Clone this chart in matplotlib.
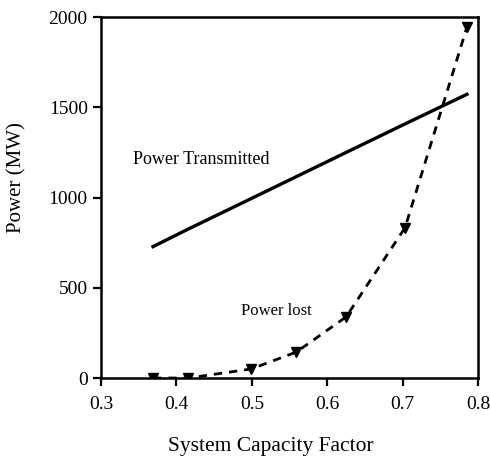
import matplotlib
matplotlib.use("Agg")
import matplotlib.pyplot as plt

# datos
capacidad = [0.369, 0.416, 0.499, 0.559, 0.625, 0.703, 0.785]
potencia_perdida = [0, 0, 50, 144, 339, 833, 1944]
potencia_transmitida = [728, 826, 994, 1116, 1250, 1408, 1572]

x_ticks = [0.3, 0.4, 0.5, 0.6, 0.7, 0.8]
y_ticks = [0, 500, 1000, 1500, 2000]

plt.rcParams['font.family'] = ['Liberation Serif', 'DejaVu Serif']

fig = plt.figure(figsize=(4.9, 4.61), dpi=100)
ax = fig.add_axes([0.206, 0.18, 0.77, 0.783])

ax.plot(capacidad, potencia_transmitida, color="black", linewidth=2.4)
ax.plot(capacidad, potencia_perdida, color="black", linewidth=2, linestyle=(0, (3, 2.5)),
        marker="v", markersize=7)

ax.text(0.343, 1211, "Power Transmitted", fontsize=13, va="center")
ax.text(0.485, 372, "Power lost", fontsize=12, va="center")

ax.set_xlim(0.3, 0.8)
ax.set_ylim(0, 2000)
ax.set_xticks(x_ticks)
ax.set_xticklabels([str(t) for t in x_ticks])
ax.set_yticks(y_ticks)

for s in ax.spines.values():
    s.set_linewidth(1.8)
ax.tick_params(direction="out", length=6, width=1.6, labelsize=14, colors="black")
ax.tick_params(axis="x", pad=7)

ax.set_xlabel("System Capacity Factor", fontsize=15.5, va="center")
ax.set_ylabel("Power (MW)", fontsize=15, va="center")
# posiciones en fraccion de ejes (centro del texto)
ax.xaxis.set_label_coords(0.45, -0.19)
ax.yaxis.set_label_coords(-0.223, 0.554)

fig.savefig("out.png", dpi=100)
